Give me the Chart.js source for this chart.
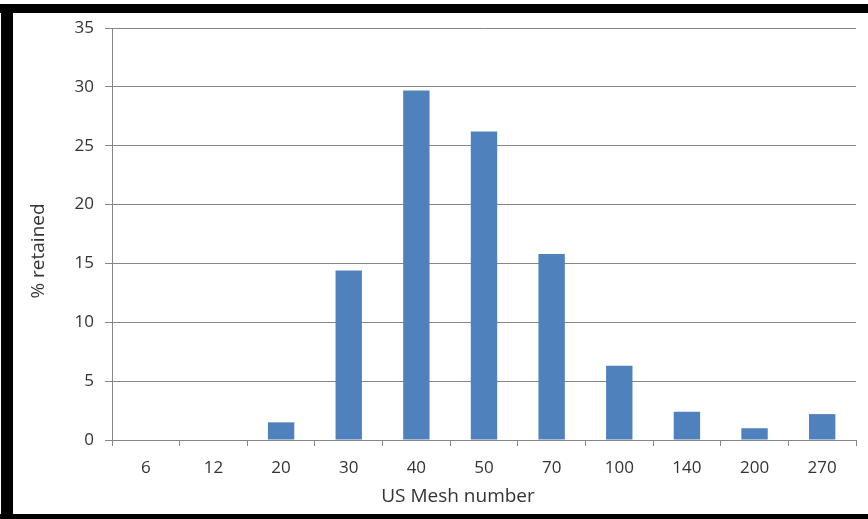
<!DOCTYPE html>
<html>
<head>
<meta charset="utf-8">
<script src="https://cdn.jsdelivr.net/npm/chart.js@4"></script>
<style>
  html, body { margin: 0; padding: 0; background: #fff; }
  #wrap { position: relative; width: 868px; height: 519px; overflow: hidden; }
  #c { position: absolute; left: 0; top: 0; }
  .bar { position: absolute; background: #000; }
</style>
</head>
<body>
<div id="wrap">
  <canvas id="c" width="868" height="519"></canvas>
  <div class="bar" style="left:0;top:4px;width:868px;height:9px"></div>
  <div class="bar" style="left:1px;top:4px;width:12px;height:515px"></div>
  <div class="bar" style="left:0;top:514px;width:868px;height:5px"></div>
</div>
<script>
const categories = ["6", "12", "20", "30", "40", "50", "70", "100", "140", "200", "270"];
const retained = [0, 0, 1.5, 14.4, 29.7, 26.2, 15.8, 6.3, 2.4, 1.0, 2.2];
const yTicks = [0, 5, 10, 15, 20, 25, 30, 35];
const xTitle = "US Mesh number";
const yTitle = "% retained";

const FONT = "'Open Sans', 'Liberation Sans', sans-serif";
const TEXT = "#333333";
const GRID = "#868686";

const titlePlugin = {
  id: 'axisTitles',
  afterDraw(chart) {
    const ctx = chart.ctx;
    ctx.save();
    ctx.fillStyle = TEXT;
    ctx.font = "19px " + FONT;
    ctx.textAlign = 'center';
    ctx.textBaseline = 'middle';
    ctx.fillText(xTitle, 458, 497);
    ctx.translate(39, 251);
    ctx.rotate(-Math.PI / 2);
    ctx.fillText(yTitle, 0, 0);
    ctx.restore();
  }
};

new Chart(document.getElementById('c'), {
  type: 'bar',
  data: {
    labels: categories,
    datasets: [{
      data: retained,
      backgroundColor: '#4F81BD',
      borderWidth: 0,
      barPercentage: 0.39,
      categoryPercentage: 1.0
    }]
  },
  options: {
    responsive: false,
    animation: false,
    events: [],
    layout: { padding: { top: 28, right: 12, left: 0, bottom: 0 } },
    plugins: { legend: { display: false }, tooltip: { enabled: false } },
    scales: {
      x: {
        offset: true,
        grid: { offset: true, drawOnChartArea: false, color: GRID, tickLength: 6, lineWidth: 1 },
        border: { color: GRID, width: 1 },
        ticks: { color: TEXT, font: { family: FONT, size: 17 }, padding: 12, maxRotation: 0 },
        afterFit(scale) { scale.height = 79; }
      },
      y: {
        min: 0,
        max: 35,
        afterBuildTicks(scale) { scale.ticks = yTicks.map(v => ({ value: v })); },
        grid: { color: GRID, tickLength: 7, lineWidth: 1 },
        border: { color: GRID, width: 1 },
        ticks: { color: TEXT, font: { family: FONT, size: 17 }, padding: 11 },
        afterFit(scale) { scale.width = 112; }
      }
    }
  },
  plugins: [titlePlugin]
});
</script>
</body>
</html>
